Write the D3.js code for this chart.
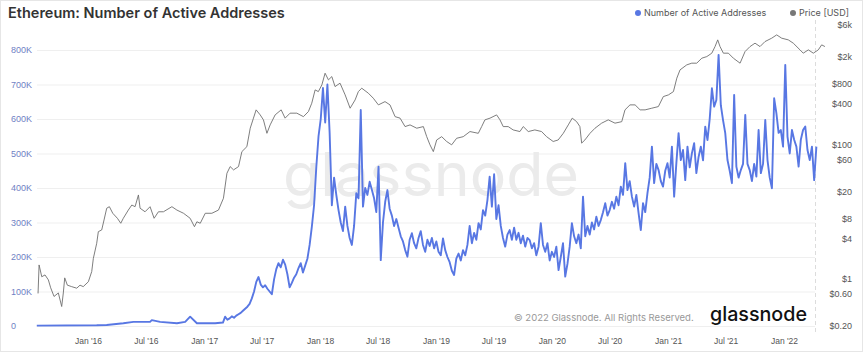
<!DOCTYPE html>
<html>
<head>
<meta charset="utf-8">
<script src="https://cdn.jsdelivr.net/npm/d3@7"></script>
<style>
  body { margin: 0; background: #fff; }
  svg { font-family: Inter, "Noto Sans", sans-serif; display: block; }
</style>
</head>
<body>
<div id="wrapper"></div>
<script>
// [decimal year, price in USD]
const priceData = [
  [2015.569,0.61],[2015.578,1.62],[2015.601,1.08],[2015.629,1.15],[2015.658,0.97],[2015.678,0.74],
  [2015.707,0.55],[2015.744,0.62],[2015.773,0.39],[2015.787,0.62],[2015.799,1.04],[2015.822,0.81],
  [2015.859,0.77],[2015.903,0.73],[2015.931,0.81],[2015.959,0.77],[2016.003,0.91],[2016.032,1.29],
  [2016.046,2.03],[2016.075,3.4],[2016.089,5.06],[2016.118,5.37],[2016.138,7.55],[2016.161,11.3],
  [2016.184,11.9],[2016.213,9.5],[2016.253,8.0],[2016.282,6.75],[2016.304,8.0],[2016.347,10.6],
  [2016.377,12.6],[2016.405,11.9],[2016.434,17.8],[2016.448,11.3],[2016.491,10.0],[2016.534,11.9],
  [2016.569,8.0],[2016.606,10.0],[2016.649,10.0],[2016.722,11.9],[2016.765,10.6],[2016.822,9.5],
  [2016.879,8.0],[2016.916,6.0],[2016.937,7.1],[2016.966,6.75],[2017.009,9.5],[2017.066,9.5],
  [2017.123,10.6],[2017.166,15.9],[2017.196,37.4],[2017.224,47],[2017.253,42],[2017.296,47],
  [2017.325,78.5],[2017.368,93],[2017.397,175],[2017.425,247],[2017.448,328],[2017.483,276],
  [2017.511,233],[2017.541,147],[2017.569,196],[2017.612,276],[2017.664,328],[2017.698,247],
  [2017.741,293],[2017.799,293],[2017.856,260],[2017.899,309],[2017.928,412],[2017.957,650],
  [2017.985,613],[2018.015,771],[2018.043,1151],[2018.072,916],[2018.101,1026],[2018.129,728],
  [2018.172,818],[2018.216,548],[2018.259,347],[2018.302,461],[2018.33,613],[2018.359,689],
  [2018.416,581],[2018.459,489],[2018.503,389],[2018.56,435],[2018.603,389],[2018.647,260],
  [2018.69,247],[2018.733,185],[2018.776,196],[2018.834,175],[2018.891,185],[2018.92,131],
  [2018.948,99],[2018.977,78.5],[2019.006,117],[2019.049,131],[2019.092,111],[2019.135,99],
  [2019.178,124],[2019.235,131],[2019.293,156],[2019.365,147],[2019.394,185],[2019.422,233],
  [2019.466,247],[2019.523,276],[2019.552,233],[2019.58,185],[2019.623,185],[2019.666,165],
  [2019.724,156],[2019.753,185],[2019.796,156],[2019.853,165],[2019.911,156],[2019.954,131],
  [2020.011,111],[2020.054,117],[2020.098,147],[2020.141,196],[2020.175,247],[2020.213,219],
  [2020.241,185],[2020.256,105],[2020.284,117],[2020.328,147],[2020.371,175],[2020.428,208],
  [2020.485,233],[2020.543,208],[2020.601,219],[2020.629,328],[2020.672,389],[2020.716,389],
  [2020.759,328],[2020.802,328],[2020.859,347],[2020.916,367],[2020.959,517],[2021.003,548],
  [2021.046,613],[2021.075,971],[2021.103,1290],[2021.161,1531],[2021.204,1623],[2021.247,1623],
  [2021.291,1926],[2021.334,2034],[2021.377,2286],[2021.405,2866],[2021.428,3606],[2021.448,2866],
  [2021.477,2286],[2021.52,2286],[2021.563,1926],[2021.621,1623],[2021.664,2416],[2021.707,2866],
  [2021.75,3221],[2021.793,2866],[2021.836,3402],[2021.894,3821],[2021.937,4278],[2021.98,3821],
  [2022.037,3606],[2022.08,3221],[2022.138,2560],[2022.166,2286],[2022.21,2560],[2022.253,2286],
  [2022.296,2560],[2022.325,3039],[2022.353,2866]
];

// active addresses (thousands) before 2017-03: [decimal year, value]
const addressEarly = [
  [2015.558,1],[2016.075,2],[2016.161,3],[2016.304,8],[2016.391,12],[2016.534,12],[2016.549,17],
  [2016.621,12],[2016.765,8],[2016.836,12],[2016.879,27],[2016.937,8],[2017.095,8]
];

// active addresses (thousands), one reading per week from 2017-03-01
const addressWeeklyStart = "2017-03-01";
const addressWeekly = [
  10,27,18,22,28,24,30,34,38,44,
  50,56,64,80,100,128,142,120,112,118,
  108,100,92,135,165,182,170,192,178,150,
  112,125,140,150,168,182,155,175,195,235,
  288,350,460,550,600,690,590,700,560,350,
  430,380,336,300,275,346,290,255,235,290,
  385,370,626,346,400,380,418,395,370,330,
  462,191,300,360,394,340,320,290,310,285,
  260,245,220,201,250,269,240,225,255,275,
  235,215,250,232,255,225,245,215,205,254,
  220,200,185,160,148,195,210,190,220,205,
  235,290,240,270,250,298,280,336,320,365,
  433,346,440,310,350,290,255,230,265,278,
  250,285,250,270,240,262,230,255,249,225,
  240,205,230,298,235,215,240,190,215,200,
  230,162,200,240,143,180,230,298,260,240,
  265,225,375,260,290,265,300,280,317,290,
  307,330,356,320,336,360,340,375,350,404,
  380,472,394,420,375,346,380,327,278,356,
  330,385,430,520,414,470,452,420,404,450,
  472,430,520,375,472,559,481,510,423,520,
  460,501,530,443,490,520,480,578,539,600,
  689,636,655,786,640,597,559,481,450,414,
  670,462,430,452,470,612,470,452,420,470,
  433,568,443,470,597,481,430,399,660,617,
  560,568,520,757,549,500,568,540,520,462,
  540,568,578,510,481,520,423,520
];

const addressTicks = [0, 100, 200, 300, 400, 500, 600, 700, 800];
const priceTicks = [0.2, 0.6, 1, 4, 8, 20, 60, 100, 400, 800, 2000, 6000];
const dateTicks = ["2016-01-01","2016-07-01","2017-01-01","2017-07-01","2018-01-01","2018-07-01",
  "2019-01-01","2019-07-01","2020-01-01","2020-07-01","2021-01-01","2021-07-01","2022-01-01"];

// decimal year -> Date
const toDate = t => {
  const y = Math.floor(t);
  const start = new Date(y, 0, 1), end = new Date(y + 1, 0, 1);
  return new Date(+start + (t - y) * (end - start));
};
const parseDay = d3.timeParse("%Y-%m-%d");

const weekStart = parseDay(addressWeeklyStart);
const addressSeries = addressEarly.map(d => ({ date: toDate(d[0]), value: d[1] }))
  .concat(addressWeekly.map((v, i) => ({ date: d3.timeDay.offset(weekStart, 7 * i), value: v })));
const priceSeries = priceData.map(d => ({ date: toDate(d[0]), value: d[1] }));

const width = 863, height = 352;
const svg = d3.select("#wrapper").append("svg")
  .attr("width", width)
  .attr("height", height);

// 4. Scales
const x = d3.scaleTime()
  .domain([new Date(2016, 0, 1), new Date(2022, 0, 1)])
  .range([88, 784]);
const yAddr = d3.scaleLinear().domain([0, 800]).range([326, 50]);
const yPrice = d3.scaleLog().domain([0.2, 6000]).range([326, 25]);

// frame
svg.append("rect")
  .attr("x", 0.5).attr("y", 0.5)
  .attr("width", width - 1).attr("height", height - 1)
  .attr("fill", "#fff").attr("stroke", "#e6e6e6");

// grid
const grid = svg.append("g")
  .attr("transform", "translate(37,0)")
  .call(d3.axisLeft(yAddr).tickValues(addressTicks).tickSize(-(815 - 37)).tickFormat(""));
grid.select(".domain").remove();
grid.selectAll("line").attr("stroke", "#efefef");

// dashed marker
svg.append("line")
  .attr("x1", 815.5).attr("x2", 815.5)
  .attr("y1", 20).attr("y2", 332)
  .attr("stroke", "#dcdcdc")
  .attr("stroke-dasharray", "4,3");

// watermark
svg.append("text")
  .attr("x", 283).attr("y", 196)
  .attr("textLength", 296)
  .attr("lengthAdjust", "spacingAndGlyphs")
  .style("font-family", "Inter, sans-serif")
  .style("font-size", "60px")
  .style("font-weight", 400)
  .style("fill", "#ebebeb")
  .text("glassnode");

// left axis labels
const leftAxis = svg.append("g")
  .attr("transform", "translate(11,0)")
  .call(d3.axisRight(yAddr).tickValues(addressTicks).tickSize(0).tickPadding(0)
    .tickFormat(d => d === 0 ? "0" : d + "K"));
leftAxis.select(".domain").remove();
leftAxis.selectAll("text")
  .style("font-size", "9px")
  .style("fill", "#6f7fc4");

// right axis labels
const rightAxis = svg.append("g")
  .attr("transform", "translate(852,0)")
  .call(d3.axisLeft(yPrice).tickValues(priceTicks).tickSize(0).tickPadding(0)
    .tickFormat(d => d >= 1000 ? "$" + (d / 1000) + "k" : d < 1 ? "$" + d.toFixed(2) : "$" + d));
rightAxis.select(".domain").remove();
rightAxis.selectAll("text")
  .style("font-size", "9px")
  .style("fill", "#555");

// bottom axis
const bottomAxis = svg.append("g")
  .attr("transform", "translate(0,334)")
  .call(d3.axisBottom(x).tickValues(dateTicks.map(parseDay))
    .tickSize(0).tickPadding(4).tickFormat(d3.timeFormat("%b '%y")));
bottomAxis.select(".domain").remove();
bottomAxis.selectAll("text")
  .style("font-size", "8.5px")
  .style("fill", "#555");

// 5. Draw Data
const priceLine = d3.line()
  .x(d => x(d.date))
  .y(d => yPrice(d.value));
svg.append("path")
  .datum(priceSeries)
  .attr("d", priceLine)
  .attr("fill", "none")
  .attr("stroke", "#6f6f6f")
  .attr("stroke-width", 0.9);

const addrLine = d3.line()
  .x(d => x(d.date))
  .y(d => yAddr(d.value));
svg.append("path")
  .datum(addressSeries)
  .attr("d", addrLine)
  .attr("fill", "none")
  .attr("stroke", "#5877e3")
  .attr("stroke-width", 1.9)
  .attr("stroke-linejoin", "round");

// title
svg.append("text")
  .attr("x", 8).attr("y", 18)
  .style("font-size", "14.5px")
  .style("font-weight", 600)
  .style("fill", "#333")
  .text("Ethereum: Number of Active Addresses");

// legend
const legend = [
  { name: "Number of Active Addresses", color: "#5877e3", x: 638 },
  { name: "Price [USD]", color: "#777", x: 793 }
];
const lg = svg.selectAll(".legend")
  .data(legend)
  .enter().append("g")
  .attr("class", "legend")
  .attr("transform", d => `translate(${d.x},13)`);
lg.append("circle").attr("r", 3).attr("fill", d => d.color);
lg.append("text")
  .attr("x", 6).attr("y", 3.2)
  .style("font-size", "9px")
  .style("fill", "#555")
  .text(d => d.name);

// copyright + logo
svg.append("text")
  .attr("x", 514).attr("y", 321)
  .style("font-size", "9.5px")
  .style("fill", "#999")
  .text("\u00a9 2022 Glassnode. All Rights Reserved.");
svg.append("text")
  .attr("x", 710).attr("y", 321)
  .attr("textLength", 97)
  .attr("lengthAdjust", "spacingAndGlyphs")
  .style("font-size", "20px")
  .style("font-weight", 500)
  .style("fill", "#111")
  .text("glassnode");
</script>
</body>
</html>
